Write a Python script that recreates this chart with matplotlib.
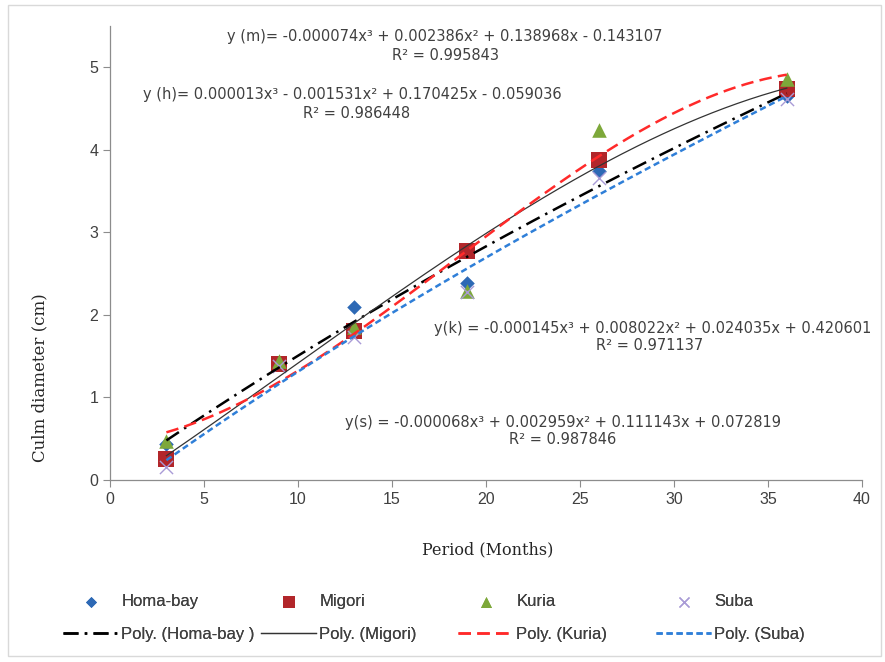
import numpy as np
import matplotlib
matplotlib.use('Agg')
import matplotlib.pyplot as plt
from matplotlib.patches import Rectangle

# 数据
months = [3, 9, 13, 19, 26, 36]
homa_bay = [0.44, 1.40, 2.09, 2.38, 3.74, 4.65]
migori = [0.25, 1.41, 1.80, 2.77, 3.87, 4.73]
kuria = [0.47, 1.44, 1.85, 2.29, 4.24, 4.85]
suba = [0.16, 1.38, 1.73, 2.27, 3.66, 4.61]

x_ticks = [0, 5, 10, 15, 20, 25, 30, 35, 40]
y_ticks = [0, 1, 2, 3, 4, 5]

eq_m = 'y (m)= -0.000074x³ + 0.002386x² + 0.138968x - 0.143107'
r2_m = 'R² = 0.995843'
eq_h = 'y (h)= 0.000013x³ - 0.001531x² + 0.170425x - 0.059036'
r2_h = 'R² = 0.986448'
eq_k = 'y(k) = -0.000145x³ + 0.008022x² + 0.024035x + 0.420601'
r2_k = 'R² = 0.971137'
eq_s = 'y(s) = -0.000068x³ + 0.002959x² + 0.111143x + 0.072819'
r2_s = 'R² = 0.987846'

fig = plt.figure(figsize=(8.85, 6.62), dpi=100)
ax = fig.add_axes([110 / 885, 1 - 480 / 662, 752 / 885, (480 - 25.7) / 662])

# 散点
ax.scatter(months, homa_bay, marker='D', s=55, color='#2D69B5', zorder=3, linewidths=0)
ax.scatter(months, migori, marker='s', s=130, color='#B2262A', zorder=3, linewidths=0)
ax.scatter(months, kuria, marker='^', s=110, color='#7DA83A', zorder=3, linewidths=0)
ax.scatter(months, suba, marker='x', s=90, color='#A99BD6', zorder=3, linewidths=1.0)

# 三次多项式趋势线
xs = np.linspace(months[0], months[-1], 200)
styles = [
    (homa_bay, dict(color='black', lw=1.8, ls=(0, (6, 2.5, 1, 2.5)))),
    (migori, dict(color='#333333', lw=0.9, ls='-')),
    (kuria, dict(color='#FF2A2A', lw=1.8, ls=(0, (5, 2.5)))),
    (suba, dict(color='#2F7FD8', lw=1.8, ls=(0, (2.5, 1.5)))),
]
for ys, st in styles:
    coef = np.polyfit(months, ys, 3)
    ax.plot(xs, np.polyval(coef, xs), zorder=4, **st)

ax.set_xlim(0, 40)
ax.set_ylim(0, 5.5)
ax.set_xticks(x_ticks)
ax.set_yticks(y_ticks)
for s in ['top', 'right']:
    ax.spines[s].set_visible(False)
for s in ['left', 'bottom']:
    ax.spines[s].set_color('#8C8C8C')
    ax.spines[s].set_linewidth(0.9)
ax.tick_params(direction='out', length=5, color='#8C8C8C', labelsize=11.5,
               labelcolor='#404040')
for lab in ax.get_xticklabels() + ax.get_yticklabels():
    lab.set_family('Liberation Sans')

# 方程文字
txt = dict(fontsize=10.5, color='#404040', family='DejaVu Sans', ha='center', va='center')
fig.text(445 / 885, 1 - 37 / 662, eq_m, **txt)
fig.text(445 / 885, 1 - 55 / 662, r2_m, **txt)
fig.text(352 / 885, 1 - 95 / 662, eq_h, **txt)
fig.text(357 / 885, 1 - 113 / 662, r2_h, **txt)
fig.text(653 / 885, 1 - 328 / 662, eq_k, **txt)
fig.text(650 / 885, 1 - 346 / 662, r2_k, **txt)
fig.text(563 / 885, 1 - 422 / 662, eq_s, **txt)
fig.text(563 / 885, 1 - 439 / 662, r2_s, **txt)

fig.text(40 / 885, 1 - 378 / 662, 'Culm diameter (cm)', rotation=90, ha='center',
         va='center', fontsize=12, family='DejaVu Serif', color='#262626')
fig.text(488 / 885, 1 - 550 / 662, 'Period (Months)', ha='center', va='center',
         fontsize=11.5, family='DejaVu Serif', color='#262626')

# 图例：四列，每列两项
names = ['Homa-bay', 'Migori', 'Kuria', 'Suba']
poly_names = ['Poly. (Homa-bay )', 'Poly. (Migori)', 'Poly. (Kuria)', 'Poly. (Suba)']
pts = ax.collections
lines = ax.get_lines()
col_x = [63, 261, 458, 656]
for i in range(4):
    leg = fig.legend([pts[i], lines[i]], [names[i], poly_names[i]],
                     loc='upper left', bbox_to_anchor=(col_x[i] / 885, 1 - 594 / 662),
                     frameon=False, handlelength=3.3, handletextpad=0.2,
                     borderpad=0, borderaxespad=0, labelspacing=1.08,
                     markerscale=0.75,
                     prop={'family': 'Liberation Sans', 'size': 12}, scatterpoints=1)
    for t in leg.get_texts():
        t.set_color('#404040')
    fig.add_artist(leg)

# 外框
fig.add_artist(Rectangle((8 / 885, 1 - 656 / 662), 873 / 885, 651 / 662,
                         transform=fig.transFigure, fill=False,
                         edgecolor='#D9D9D9', lw=1))

fig.savefig('out.png', dpi=100)
